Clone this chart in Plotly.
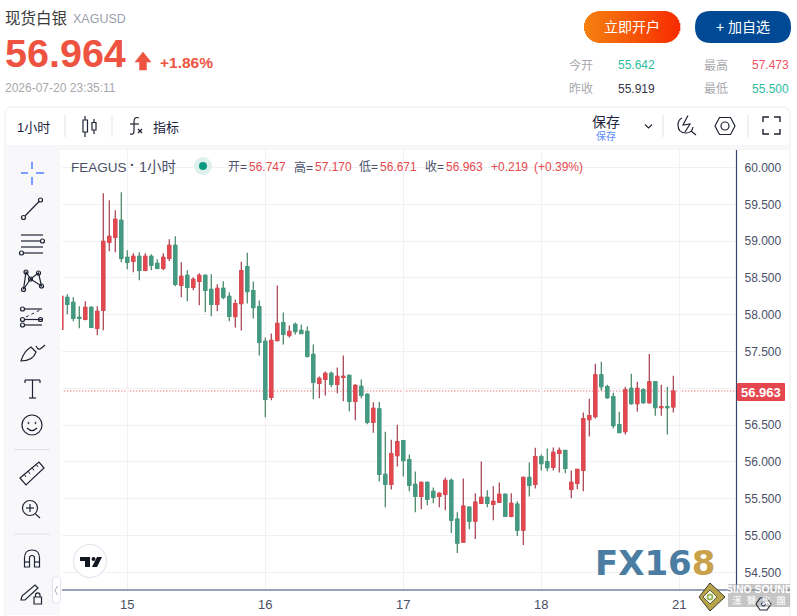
import plotly.graph_objects as go
import re

# ---- chart data (1-hour candles) ----
opens = [57.80,58.236,58.168,57.965,57.937,58.100,57.815,58.060,58.984,59.052,59.283,58.780,58.726,58.794,58.603,58.794,58.698,58.630,58.766,58.943,58.399,58.535,58.372,58.454,58.535,58.345,58.141,58.359,58.250,
 57.976,58.152,58.654,58.328,58.111,57.637,56.877,57.650,57.894,57.718,57.867,57.786,57.772,57.460,57.067,57.121,57.203,57.054,57.149,57.176,56.823,57.026,56.918,56.538,56.720,55.830,55.695,56.086,56.288,56.032,55.695,55.532,55.722,55.600,55.532,55.560,55.748,55.222,54.912,55.384,55.195,55.438,55.519,55.425,55.452,55.560,55.262,55.425,55.073,55.789,55.695,56.072,56.004,55.926,56.115,56.155,55.628,55.709,55.885,56.575,56.616,57.184,57.022,56.886,56.508,56.413,57.0,56.792,56.981,56.805,57.089,56.738,56.751,56.747]
highs = [58.25,58.277,58.236,58.114,58.182,58.114,58.114,59.650,59.555,59.419,59.663,58.875,58.834,58.848,58.834,58.821,58.753,58.834,59.025,59.065,58.712,58.603,58.508,58.562,58.549,58.549,58.413,58.454,58.304,
 58.206,58.721,58.843,58.450,58.193,57.691,57.745,58.396,58.030,57.854,57.894,57.867,57.840,57.596,57.162,57.230,57.230,57.284,57.447,57.189,57.054,57.121,56.932,56.810,56.815,56.410,56.302,56.505,56.288,56.100,55.870,55.735,55.735,55.654,55.587,55.789,55.775,55.317,55.775,55.398,55.573,56.005,55.614,55.668,55.722,55.573,55.573,55.465,55.802,55.991,56.194,56.100,56.183,56.196,56.196,56.155,55.885,55.899,56.670,56.859,57.333,57.360,57.049,56.941,56.683,57.022,57.198,57.089,57.0,57.468,57.089,57.049,57.022,57.170]
lows = [57.80,58.005,57.910,57.815,57.924,57.829,57.720,57.788,58.861,58.848,58.712,58.617,58.576,58.467,58.590,58.603,58.617,58.603,58.726,58.386,58.236,58.182,58.331,58.128,58.032,57.978,58.046,58.209,57.910,
 57.827,57.786,58.152,57.949,57.447,56.606,56.837,57.637,57.596,57.691,57.732,57.745,57.420,56.850,56.864,56.904,57.013,56.932,56.823,56.687,56.565,56.864,56.511,56.396,55.735,55.384,55.627,55.937,55.802,55.600,55.317,55.357,55.411,55.438,55.384,55.343,55.033,54.763,54.912,55.087,54.952,55.438,55.384,55.208,55.452,55.262,55.249,54.992,54.871,55.532,55.640,55.883,55.872,55.885,55.858,55.845,55.506,55.628,55.601,56.345,56.589,56.968,56.859,56.453,56.399,56.372,56.778,56.683,56.792,56.792,56.629,56.629,56.372,56.671]
closes = [58.25,58.141,57.951,57.951,58.100,57.829,58.046,58.997,59.065,59.296,58.766,58.712,58.794,58.603,58.794,58.671,58.630,58.780,58.943,58.413,58.522,58.372,58.481,58.535,58.331,58.141,58.359,58.236,57.978,
 58.152,58.599,58.315,58.098,57.623,56.850,57.650,57.881,57.732,57.772,57.772,57.745,57.433,57.081,57.135,57.203,57.054,57.162,57.162,56.823,57.040,56.904,56.538,56.728,55.830,55.695,56.113,56.275,56.019,55.681,55.532,55.722,55.492,55.519,55.573,55.748,55.208,54.898,55.398,55.195,55.452,55.519,55.438,55.465,55.560,55.262,55.438,55.073,55.789,55.681,56.072,55.978,55.924,56.129,56.155,55.912,55.723,55.899,56.589,56.629,57.184,57.022,56.873,56.494,56.399,56.981,56.792,57.0,56.805,57.089,56.738,56.751,56.738,56.963]
hours = list(range(len(opens)))

y_ticks = [60.0,59.5,59.0,58.5,58.0,57.5,57.0,56.5,56.0,55.5,55.0,54.5]
y_tick_labels = ["60.000","59.500","59.000","58.500","58.000","57.500","","56.500","56.000","55.500","55.000","54.500"]
day_ticks = [11,34,57,80,103]
day_labels = ["15","16","17","18","21"]
last_price = 56.963

legend_parts = [("开=",228,"#4a5068"),("56.747",249,"#e5484d"),("高=",294,"#4a5068"),("57.170",315,"#e5484d"),
                ("低=",359,"#4a5068"),("56.671",380,"#e5484d"),("收=",425,"#4a5068"),("56.963",446,"#e5484d"),
                ("+0.219",491,"#e5484d"),("(+0.39%)",534,"#e5484d")]

RED="#e4474e"; GREEN="#439a84"; WICK_R="#a94a58"; WICK_G="#4f8b6c"
FONT="Liberation Sans, Noto Sans CJK SC"; INK="#1f2333"
body_top=[max(a,b) for a,b in zip(opens,closes)]
body_bot=[min(a,b) for a,b in zip(opens,closes)]

fig=go.Figure()
fig.add_trace(go.Candlestick(x=hours,open=opens,high=highs,low=lows,close=closes,whiskerwidth=0,
    increasing=dict(line=dict(color=WICK_R,width=1.3),fillcolor=RED),
    decreasing=dict(line=dict(color=WICK_G,width=1.3),fillcolor=GREEN),showlegend=False))
fig.add_trace(go.Candlestick(x=hours,open=opens,high=body_top,low=body_bot,close=closes,whiskerwidth=0,
    increasing=dict(line=dict(color=RED,width=1),fillcolor=RED),
    decreasing=dict(line=dict(color=GREEN,width=1),fillcolor=GREEN),showlegend=False))

W,H=797,616
shapes=[];ann=[]
def T(x,y,s,size=12,color="#333",anchor="left",bold=False):
    if anchor=="left": x-=1
    ann.append(dict(x=x,y=y,xref="x2",yref="y2",text=f"<b>{s}</b>" if bold else s,showarrow=False,
        xanchor=anchor,yanchor="middle",font=dict(size=size,color=color,family=FONT),borderpad=0))
def P(d,color=INK,w=1.2,fill=None):
    s=dict(type="path",path=d,xref="x2",yref="y2",line=dict(color=color,width=w),layer="above")
    if fill: s["fillcolor"]=fill
    shapes.append(s)
def L(x0,y0,x1,y1,color=INK,w=1.2,dash=None):
    ln=dict(color=color,width=w)
    if dash: ln["dash"]=dash
    shapes.append(dict(type="line",x0=x0,y0=y0,x1=x1,y1=y1,xref="x2",yref="y2",line=ln,layer="above"))
def R(x0,y0,x1,y1,fill):
    shapes.append(dict(type="rect",x0=x0,y0=y0,x1=x1,y1=y1,xref="x2",yref="y2",fillcolor=fill,line=dict(width=0),layer="above"))
def Rb(x0,y0,x1,y1,fill):
    shapes.append(dict(type="rect",x0=x0/W,y0=1-y0/H,x1=x1/W,y1=1-y1/H,xref="paper",yref="paper",fillcolor=fill,line=dict(width=0),layer="below"))
def Box(x0,y0,x1,y1,fill="#ffffff",w=1.2):
    shapes.append(dict(type="rect",x0=x0,y0=y0,x1=x1,y1=y1,xref="x2",yref="y2",line=dict(color=INK,width=w),fillcolor=fill,layer="above"))
def C(cx,cy,r,color=INK,w=1.2,fill=None):
    s=dict(type="circle",x0=cx-r,y0=cy-r,x1=cx+r,y1=cy+r,xref="x2",yref="y2",line=dict(color=color,width=w),layer="above")
    if fill: s["fillcolor"]=fill
    shapes.append(s)
def rr(x0,y0,x1,y1,r):
    return (f"M{x0+r},{y0} L{x1-r},{y0} Q{x1},{y0} {x1},{y0+r} L{x1},{y1-r} Q{x1},{y1} {x1-r},{y1} "
            f"L{x0+r},{y1} Q{x0},{y1} {x0},{y1-r} L{x0},{y0+r} Q{x0},{y0} {x0+r},{y0} Z")
def paper_path(d):
    return re.sub(r"(-?[\d.]+),(-?[\d.]+)",lambda m:f"{float(m[1])/W:.5f},{1-float(m[2])/H:.5f}",d)

# ---- frame (under the chart) ----
shapes.append(dict(type="path",path=paper_path(rr(5,107,790,630,8)),xref="paper",yref="paper",line=dict(color="#ececf0",width=1),fillcolor="#ffffff",layer="below"))
Rb(6,145,789,150,"#f7f7f9")
Rb(6,150,60,615,"#f8f8fb")

# ---- header ----
T(5,18,"现货白银",15.5,"#3a3a3a")
T(73,18.5,"XAGUSD",12.5,"#9aa0ad")
T(5,53,"56.964",39.5,"#ee5342",bold=True)
P("M143,52 L151,62 L146.5,62 L146.5,70 L139.5,70 L139.5,62 L135,62 Z","#ee5342",0.5,"#ee5342")
T(160,62,"+1.86%",15.5,"#ee5342",bold=True)
T(5,88,"2026-07-20 23:35:11",12,"#a8a8ae")
n=96;ca=(0xf5,0x81,0x10);cb=(0xf8,0x2c,0x02)
for i in range(n):
    x=584+i;t=i/(n-1)
    col="rgb(%d,%d,%d)"%tuple(int(a+(b-a)*t) for a,b in zip(ca,cb))
    dx=min(i+.5,n-i-.5);r=16
    hh=r if dx>=r else (r*r-(r-dx)**2)**.5
    R(x,27-hh,x+1.3,27+hh,col)
T(632,27,"立即开户",14,"#ffffff","center")
P(rr(695,11,791,43,16),"#004a95",0,"#004a95")
T(743,27,"+ 加自选",14,"#ffffff","center")
T(569,65,"今开",12,"#a8a8ae"); T(618,65,"55.642",12,"#2ebd9f")
T(704,65,"最高",12,"#a8a8ae"); T(790,65,"57.473",12,"#f0535f","right")
T(569,88.5,"昨收",12,"#a8a8ae"); T(618,88.5,"55.919",12,"#333344")
T(704,88.5,"最低",12,"#a8a8ae"); T(790,88.5,"55.500",12,"#2ebd9f","right")

# ---- top toolbar ----
TB="#1a2240"
T(17,127,"1小时",13,TB)
for sx in (65,112,663,748): L(sx,115,sx,137,"#e2e3ea",1)
L(85,116,85,137); Box(83,120,87.5,132)
L(94,119,94,134); Box(92,122.5,96,130)
P("M139,118 Q134,116 134,122 L134,131 Q134,135 130,134"); L(130,124,139,124)
L(138,129,142,133); L(142,129,138,133)
T(153,127,"指标",13,TB)
T(606,122,"保存",14,TB,"center")
T(606,135.5,"保存",10,"#5d8cf5","center")
P("M645,124.5 L648.5,128 L652,124.5",INK,1.1)
P("M682,118 Q678,120 678,125 Q678,133 686,133 Q692,133 693,127")
P("M688,115.5 L683,125 L690,124 L685,132"); L(691,131,696,135)
P("M715,126 L719.5,117.5 L730.5,117.5 L735,126 L730.5,134.5 L719.5,134.5 Z"); C(725,126,4)
for d in ("M763,122 L763,117 L769,117","M774,117 L780,117 L780,122","M780,129 L780,134 L774,134","M769,134 L763,134 L763,129"):
    P(d,INK,1.4)

# ---- chart legend ----
T(71,167,"FEAGUS",13.5,"#4a5068"); T(130,165,"·",14,"#4a5068",bold=True); T(139,167,"1小时",14.5,"#4a5068")
C(203,166,9,"#dff1ed",0,"#dff1ed"); C(203,166,4,"#089981",0,"#089981")
for s,x,c in legend_parts: T(x,167,s,12,c)

# ---- left toolbar icons ----
BL="#2962ff"
L(21,173,28,173,BL); L(36,173,44,173,BL); L(32,162,32,169,BL); L(32,177,32,185,BL)
C(23.5,217.5,2);C(40.5,200,2);L(25,216,39,201.5)
for yy,x0,x1 in ((235,21,43),(241,21,41),(247,21,43),(253,23,43)): L(x0,yy,x1,yy)
C(42.5,241,2);C(21.5,253,2)
for p in [(26,272),(38.5,273),(30.5,279),(23.5,289.5),(41.5,286)]: C(p[0],p[1],2)
P("M23.5,289.5 L26,272 L30.5,279 L38.5,273 L41.5,286 L30.5,279 L23.5,289.5")
for yy in (309,319.5,325): L(24,yy,42,yy)
C(22.5,309,2);C(22.5,319.5,2);C(22.5,325,2);C(40.5,319.5,2)
L(26,317,40,310,INK,1,dash="dot")
P("M21,361 Q24,351 31,347 L36,352 Q33,361 21,361 Z M36,346 Q38,350 40,349 Q43,347 45,345")
L(25,380,40,380);L(25,380,25,383);L(40,380,40,383)
L(32.5,380,32.5,398);L(29,398,36,398)
C(32,425,10);C(28.5,423,.6,INK,1,INK);C(35.5,423,.6,INK,1,INK);P("M27,428 Q32,433 37,428")
L(14,449.5,50,449.5,"#e0e1ea",1)
P("M20,478 L39,462 L44,468 L26,485 Z")
for a,b,c,d in ((24,474,26,477),(28,471,30,474),(32,467.5,34,470.5),(36,464,38,467)): L(a,b,c,d,INK,1)
C(30,508,7.5);L(26,508,34,508);L(30,504,30,512);L(35.5,514,40,518)
L(14,534,50,534,"#e0e1ea",1)
P("M24.5,567 L24.5,558 Q24.5,550 32,550 Q39.5,550 39.5,558 L39.5,567 L34.5,567 L34.5,558 Q34.5,555.5 32,555.5 Q29.5,555.5 29.5,558 L29.5,567 Z")
L(24.5,562,29.5,562);L(34.5,562,39.5,562)
P("M22,596 L21,600 L25,600 L38,588 L35,585 Z")
Box(34,597,41.5,604,"#f8f8fb")
P("M35.5,597 L35.5,595 Q35.5,592.8 37.7,592.8 Q40,592.8 40,595 L40,597")
P(rr(52.5,577,60.5,603,3),"#e2e3ef",1,"#ffffff")
P("M57.5,586 L55,590.5 L57.5,595","#a8adc4",1)

# ---- axis lines + last price ----
L(62,590,790,590,"#39436b",1.2)
L(736.5,150,736.5,590,"#39436b",1.2)
shapes.append(dict(type="line",xref="x",yref="y",x0=0,x1=112.5,y0=last_price,y1=last_price,
    line=dict(color="#e4474e",width=1,dash="1px,2px"),layer="below"))
P(rr(737,383,785,401,1),RED,0,RED)
T(761,392,str(last_price),13,"#ffffff","center",bold=True)

# ---- TV badge ----
C(90,561,16.5,"#e4e5ef",1.2,"#ffffff")
P("M80,557 L90,557 L90,567 L85,567 L85,561 L80,561 Z",INK,0,"#131722"); C(93.5,559,2,"#131722",0,"#131722")
P("M92,567 L97,557 L102,557 L97,567 Z",INK,0,"#131722")

# ---- watermarks ----
ann.append(dict(x=593,y=563,xref="x2",yref="y2",xanchor="left",yanchor="middle",showarrow=False,
    text="<b><span style='color:#4b7ca1'>FX16</span><span style='color:#c8a14a'>8</span></b>",
    font=dict(size=34,family="DejaVu Sans, Liberation Sans")))
P("M710,583 L725,597 L710,611 L699,597 Z","#3a3a2a",1,"#b8a24a")
P("M710,590 L717,597 L710,604 L703,597 Z","#5d5d45",1,"#f5f5e8")
C(710,597,2.5,"#8cb04a",1.5)
R(728,584,790,607,"rgba(150,150,150,0.55)")
T(759,589,"SINO SOUND",10.5,"#ffffff","center",bold=True)
T(759,600,"漢  聲  集  團",9.5,"#ffffff","center")
P("M760,598 L767,598 L771,604 L767,610 L760,610 L756,604 Z",INK,1.1); C(763.5,604,2,INK,1)

fig.update_layout(
    width=W,height=H,margin=dict(l=0,r=0,t=0,b=0),paper_bgcolor="#ffffff",plot_bgcolor="rgba(0,0,0,0)",
    font=dict(family=FONT),showlegend=False,shapes=shapes,annotations=ann,dragmode=False,
    xaxis=dict(domain=[62/W,736.5/W],range=[0.117,112.53],tickmode="array",tickvals=day_ticks,ticktext=day_labels,
        showgrid=True,gridcolor="#f1f1f4",gridwidth=1,zeroline=False,showline=False,ticks="",
        rangeslider=dict(visible=False),tickfont=dict(size=13,color="#4a5068",family=FONT),ticklabelstandoff=5),
    yaxis=dict(domain=[(H-590)/H,(H-150)/H],range=[54.26,60.238],side="right",tickmode="array",tickvals=y_ticks,
        ticktext=y_tick_labels,showgrid=True,gridcolor="#f1f1f4",gridwidth=1,zeroline=False,
        showline=False,ticks="",tickfont=dict(size=12,color="#4a5068",family=FONT),ticklabelstandoff=7),
    xaxis2=dict(domain=[0,1],range=[0,W],visible=False,anchor="y2",fixedrange=True),
    yaxis2=dict(domain=[0,1],range=[H,0],visible=False,anchor="x2",fixedrange=True),
)
fig.add_trace(go.Scatter(x=[0],y=[0],xaxis="x2",yaxis="y2",mode="markers",marker=dict(opacity=0),hoverinfo="skip",showlegend=False))
fig.write_html("out.html",config=dict(displayModeBar=False),post_script="document.body.style.margin='0';document.body.style.overflow='hidden';")
